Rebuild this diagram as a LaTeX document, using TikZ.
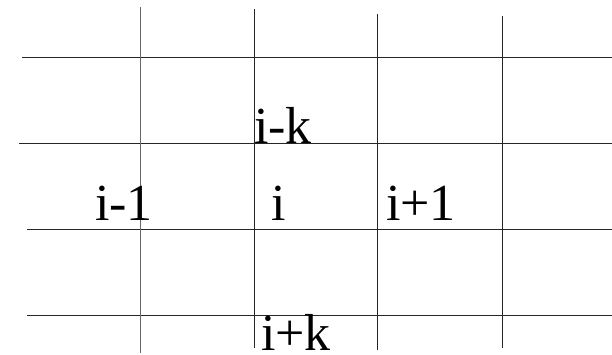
\documentclass[tikz,border=0pt]{standalone}
\usepackage{fontspec}
\setmainfont{Liberation Serif}
\begin{document}
\begin{tikzpicture}[x=1pt,y=1pt,
  gridline/.style={line width=1pt, draw=black!85},
  lbl/.style={anchor=base west, inner sep=0pt, font=\fontsize{52}{52}\selectfont}]
\useasboundingbox (0,0) rectangle (612,354);
% horizontal lines (y measured from top: 58,143,229,315)
\draw[gridline] (22,296) -- (612,296);
\draw[gridline] (19,211) -- (612,211);
\draw[gridline] (27,125) -- (612,125);
\draw[gridline] (27,39) -- (612,39);
% vertical lines
\draw[gridline, draw=black!60] (140.5,347) -- (140.5,1);
\draw[gridline] (254.5,345) -- (254.5,6);
\draw[gridline] (377,340) -- (377,4);
\draw[gridline] (502,338) -- (502,6);
% labels
\node[lbl] (ik)  at (254,211) {i-k};
\node[lbl] (im1) at (95,134) {i-1};
\node[lbl] (i)   at (271,134) {i};
\node[lbl] (ip1) at (386,134) {i+1};
\node[lbl] (ipk) at (261,4) {i+k};
\end{tikzpicture}
\end{document}
